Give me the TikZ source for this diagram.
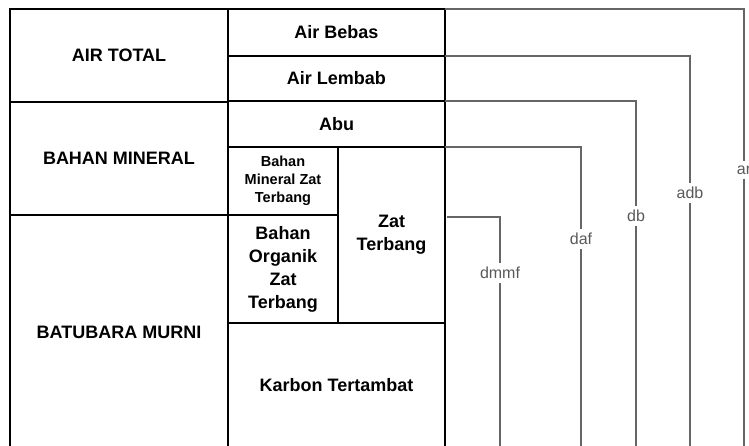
\documentclass[tikz,border=0pt]{standalone}
\usepackage{fontspec}
\setmainfont{Liberation Sans}
\usetikzlibrary{positioning,calc}

\begin{document}
\begin{tikzpicture}[
  x=1pt, y=-1pt,
  box/.style={
    draw, rectangle, line width=1.2pt, inner sep=0pt, outer sep=0pt,
    align=center, font=\bfseries\fontsize{18}{23}\selectfont
  },
  smallbox/.style={box, font=\bfseries\fontsize{14.5}{18}\selectfont},
  thickline/.style={line width=2.6pt},
  link/.style={draw=black!60, line width=1.4pt},
  lbl/.style={text=black!65, inner sep=4pt, font=\fontsize{16}{18}\selectfont},
]
\useasboundingbox (0,0) rectangle (749,445);

\node[box, minimum width=218pt, minimum height=93pt] (airtotal) at (119,55.5) {AIR TOTAL};
\node[box, minimum width=218pt, minimum height=113pt, below=0pt of airtotal] (mineral) {BAHAN MINERAL};
\node[box, minimum width=218pt, minimum height=234pt, below=0pt of mineral] (murni) {BATUBARA MURNI};

\node[box, minimum width=217pt, minimum height=47pt] (airbebas) at (336.5,32.5) {Air Bebas};
\node[box, minimum width=217pt, minimum height=45pt, below=0pt of airbebas] (airlembab) {Air Lembab};
\node[box, minimum width=217pt, minimum height=46pt, below=0pt of airlembab] (abu) {Abu};

\node[smallbox, minimum width=110pt, minimum height=68pt, anchor=north west] (bmzt) at (abu.south west)
  {Bahan\\Mineral Zat\\Terbang};
\node[box, minimum width=110pt, minimum height=108pt, below=0pt of bmzt] (bozt)
  {Bahan\\Organik\\Zat\\Terbang};
\node[box, minimum width=107pt, minimum height=176pt, anchor=north east] (zat) at (abu.south east)
  {Zat\\Terbang};
\node[box, minimum width=217pt, minimum height=124pt, anchor=north east] (karbon) at (zat.south east)
  {Karbon Tertambat};

\draw[thickline] (mineral.south west) -- (mineral.south east);
\draw[thickline] (bmzt.north east) -- (bozt.south east);
\draw[thickline] (karbon.north west) -- (karbon.north east);
\draw[line width=2pt] (airbebas.north east) -- (karbon.south east);

\coordinate (bottom) at (0,450);
\coordinate (dmmfstart) at (447,217);

\node[lbl] (ar) at (744,170) {ar};
\node[lbl] (adb) at (690,193) {adb};
\node[lbl] (db) at (636,216) {db};
\node[lbl] (daf) at (581,239) {daf};
\node[lbl] (dmmf) at (500,273) {dmmf};

\draw[link] (airbebas.north east) -| (ar.north);
\draw[link] (ar.south) -- (ar |- bottom);
\draw[link] (airbebas.south east) -| (adb.north);
\draw[link] (adb.south) -- (adb |- bottom);
\draw[link] (airlembab.south east) -| (db.north);
\draw[link] (db.south) -- (db |- bottom);
\draw[link] (abu.south east) -| (daf.north);
\draw[link] (daf.south) -- (daf |- bottom);
\draw[link, line width=2pt] (dmmfstart) -| (dmmf.north);
\draw[link] (dmmf.south) -- (dmmf |- bottom);

\end{tikzpicture}
\end{document}
